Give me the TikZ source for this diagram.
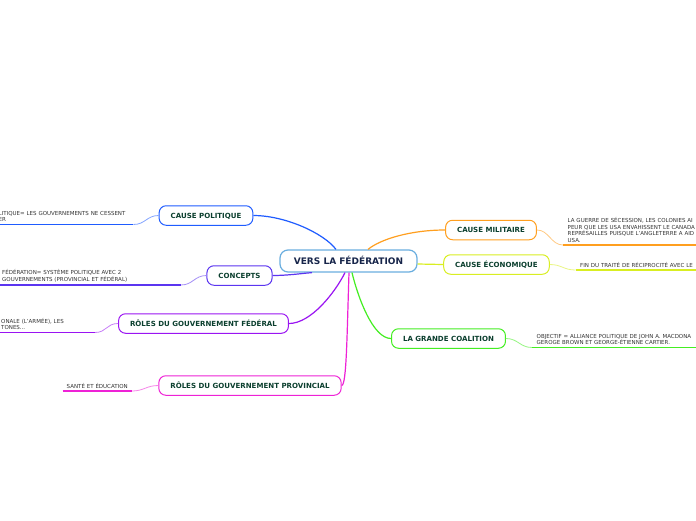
\documentclass[tikz,border=0pt]{standalone}
\usepackage{fontspec}
\setmainfont{DejaVu Sans}
\usetikzlibrary{positioning}

\definecolor{rootc}{HTML}{6AAEDF}
\definecolor{roottxt}{HTML}{17254A}
\definecolor{topictxt}{HTML}{0B3F2E}
\definecolor{leaftxt}{HTML}{333333}
\definecolor{cpol}{HTML}{1F5CFF}
\definecolor{ccon}{HTML}{5B35F0}
\definecolor{cfed}{HTML}{9A14F2}
\definecolor{cprov}{HTML}{EE22D6}
\definecolor{cmil}{HTML}{FF9F1F}
\definecolor{ceco}{HTML}{D9EE22}
\definecolor{ccoa}{HTML}{44EE22}

\begin{document}
\begin{tikzpicture}[
    x=1pt, y=-1pt,
    root/.style={rectangle, rounded corners=8pt, draw=rootc, line width=1.2pt, fill=white, minimum width=137pt, minimum height=22pt, text height=6.6pt, text depth=0pt, text=roottxt, font=\bfseries\fontsize{9}{10}\selectfont},
    topic/.style={rectangle, rounded corners=7pt, line width=1pt, fill=white, minimum height=19.5pt, inner xsep=11.5pt, text height=5.2pt, text depth=0pt, text=topictxt, font=\bfseries\fontsize{7.05}{8}\selectfont},
    leaf/.style={inner xsep=4.5pt, inner ysep=2.5pt, align=left, text=leaftxt, font=\fontsize{5.5}{6.6}\selectfont},
    link/.style={line width=1.2pt},
    twig/.style={line width=0.8pt},
    uline/.style={line width=1.4pt},
]
    \useasboundingbox (0,0) rectangle (696,520);
    \clip (0,0) rectangle (696,520);
    \fill[white] (0,0) rectangle (696,520);

    % central topic
    \node (root) [root] at (348.5,261) {VERS LA FÉDÉRATION};

    % main topics
    \node (pol) [topic, draw=cpol] at (206,215.5) {CAUSE POLITIQUE};
    \node (con) [topic, draw=ccon] at (239.5,275.5) {CONCEPTS};
    \node (fed) [topic, draw=cfed] at (203.5,323.5) {RÔLES DU GOUVERNEMENT FÉDÉRAL};
    \node (prov) [topic, draw=cprov] at (250,385.5) {RÔLES DU GOUVERNEMENT PROVINCIAL};
    \node (mil) [topic, draw=cmil] at (491,230) {CAUSE MILITAIRE};
    \node (eco) [topic, draw=ceco] at (496.5,264.5) {CAUSE ÉCONOMIQUE};
    \node (coa) [topic, draw=ccoa] at (448.5,338.5) {LA GRANDE COALITION};

    % sub topics
    \node (polleaf) [leaf, anchor=south west, text width=130pt] at (-6,224.5) {LITIQUE= LES GOUVERNEMENTS NE CESSENT\\ER};
    \node (conleaf) [leaf, anchor=south west, text width=174pt] at (-2.5,285) {FÉDÉRATION= SYSTÈME POLITIQUE AVEC 2\\GOUVERNEMENTS (PROVINCIAL ET FÉDÉRAL)};
    \node (fedleaf) [leaf, anchor=south west, text width=89pt] at (-3.5,332.5) {ONALE (L'ARMÉE), LES\\TONES...};
    \node (provleaf) [leaf, anchor=south west, text width=61pt, inner xsep=4pt] at (62.5,391) {\mbox{SANTÉ ET ÉDUCATION}};
    \node (milleaf) [leaf, anchor=south west, text width=200pt] at (563,245) {LA GUERRE DE SÉCESSION, LES COLONIES AI\\PEUR QUE LES USA ENVAHISSENT LE CANADA\\REPRÉSAILLES PUISQUE L'ANGLETERRE A AID\\USA.};
    \node (ecoleaf) [leaf, anchor=south west, text width=200pt] at (575.5,270) {FIN DU TRAITÉ DE RÉCIPROCITÉ AVEC LE};
    \node (coaleaf) [leaf, anchor=south west, text width=200pt] at (532,347.5) {OBJECTIF = ALLIANCE POLITIQUE DE JOHN A. MACDONA\\GEROGE BROWN ET GEORGE-ÉTIENNE CARTIER.};

    % root to topics
    \draw [link, cpol] ([xshift=-12.5pt]root.north) .. controls +(-12,-16) and +(32,0) .. (pol.east);
    \draw [link, cmil] ([xshift=19.5pt]root.north) .. controls +(12,-10) and +(-35,0) .. (mil.west);
    \draw [link, ceco] ([yshift=-3pt]root.east) -- (eco.west);
    \draw [link, ccon] ([xshift=-36.5pt]root.south) .. controls +(-12,1) and +(15,0) .. (con.east);
    \draw [link, cfed] ([xshift=-3.5pt]root.south) .. controls +(-10,20) and +(22,0) .. (fed.east);
    \draw [link, cprov] ([xshift=0.5pt]root.south) .. controls +(-2,60) and +(5,0) .. (prov.east);
    \draw [link, ccoa] ([xshift=3.5pt]root.south) .. controls +(6,25) and +(-18,0) .. (coa.west);

    % topics to sub topics
    \draw [twig, cpol!55] (pol.west) .. controls +(-12,0) and +(12,0) .. (polleaf.south east);
    \draw [twig, ccon!55] (con.west) .. controls +(-12,0) and +(12,0) .. (conleaf.south east);
    \draw [twig, cfed!55] (fed.west) .. controls +(-12,0) and +(12,0) .. (fedleaf.south east);
    \draw [twig, cprov!55] (prov.west) .. controls +(-12,0) and +(12,0) .. (provleaf.south east);
    \draw [twig, cmil!55] (mil.east) .. controls +(12,0) and +(-12,0) .. (milleaf.south west);
    \draw [twig, ceco!55] (eco.east) .. controls +(12,0) and +(-12,0) .. (ecoleaf.south west);
    \draw [twig, ccoa!55] (coa.east) .. controls +(12,0) and +(-12,0) .. (coaleaf.south west);

    % underlines
    \draw [uline, cpol] (polleaf.south west) -- (polleaf.south east);
    \draw [uline, ccon] (conleaf.south west) -- (conleaf.south east);
    \draw [uline, cfed] (fedleaf.south west) -- (fedleaf.south east);
    \draw [uline, cprov] (provleaf.south west) -- (provleaf.south east);
    \draw [uline, cmil] (milleaf.south west) -- (milleaf.south east);
    \draw [uline, ceco] (ecoleaf.south west) -- (ecoleaf.south east);
    \draw [uline, ccoa] (coaleaf.south west) -- (coaleaf.south east);

\end{tikzpicture}
\end{document}
